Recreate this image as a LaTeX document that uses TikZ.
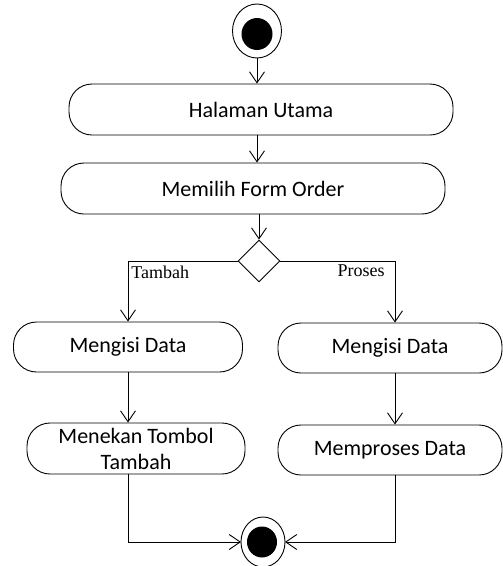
\documentclass[tikz,border=0pt]{standalone}
\usepackage{fontspec}
\setmainfont{Carlito}
\newfontfamily\guardfont{Liberation Serif}
\usetikzlibrary{arrows.meta,shapes.geometric}
\begin{document}
\begin{tikzpicture}[x=1pt,y=-1pt,
  line width=0.9pt,
  activity/.style={draw,rectangle,rounded corners=23pt,inner sep=0pt,
    font=\fontsize{22}{26}\selectfont,align=center},
  flow/.style={-{Straight Barb[length=11pt,width=15pt]}},
  guard/.style={font=\guardfont\fontsize{18}{20}\selectfont,inner sep=0pt}]
\useasboundingbox (0,0) rectangle (503,566);

% initial state
\draw (257,31) ellipse [x radius=24.5, y radius=27];
\fill (257,34) ellipse [x radius=15.5, y radius=16];
\coordinate (start) at (257,58);

% activities
\node[activity,minimum width=384pt,minimum height=51pt] (halaman) at (261,109.5) {Halaman Utama};
\node[activity,minimum width=384pt,minimum height=51pt] (memilih) at (253,188.5) {Memilih Form Order};
\node[draw,diamond,aspect=1,minimum width=42pt,minimum height=42pt,inner sep=0pt] (dec) at (259,261) {};

\node[activity,minimum width=229pt,minimum height=50pt] (isiA) at (128,347) {Mengisi Data};
\node[activity,minimum width=224pt,minimum height=50pt] (isiB) at (390,348) {Mengisi Data};
\node[activity,minimum width=218pt,minimum height=51pt] (tekan) at (136,448.5) {Menekan Tombol\\Tambah};
\node[activity,minimum width=224pt,minimum height=50pt] (proses) at (390,450) {Memproses Data};

% final state
\draw (263,542) ellipse [x radius=22, y radius=25];
\fill (262,542) ellipse [x radius=15, y radius=15.5];
\coordinate (endL) at (241,542);
\coordinate (endR) at (285,542);

% flows
\draw[flow] (start) -- (start |- halaman.north);
\draw[flow] (start |- halaman.south) -- (start |- memilih.north);
\draw[flow] (dec.north |- memilih.south) -- (dec.north);
\draw[flow] (dec.west) -| (isiA.north);
\draw[flow] (dec.east) -| (isiB.north -| 395,0);
\draw[flow] (isiA.south) -- (isiA.south |- tekan.north);
\draw[flow] (isiB.south -| 395,0) -- (proses.north -| 395,0);
\draw[flow] (tekan.south -| isiA.south) |- (endL);
\draw[flow] (proses.south -| 395,0) |- (endR);

% guards
\node[guard,anchor=base west] (gA) at (131,278) {Tambah};
\node[guard,anchor=base east] (gB) at (385,276) {Proses};
\end{tikzpicture}
\end{document}
